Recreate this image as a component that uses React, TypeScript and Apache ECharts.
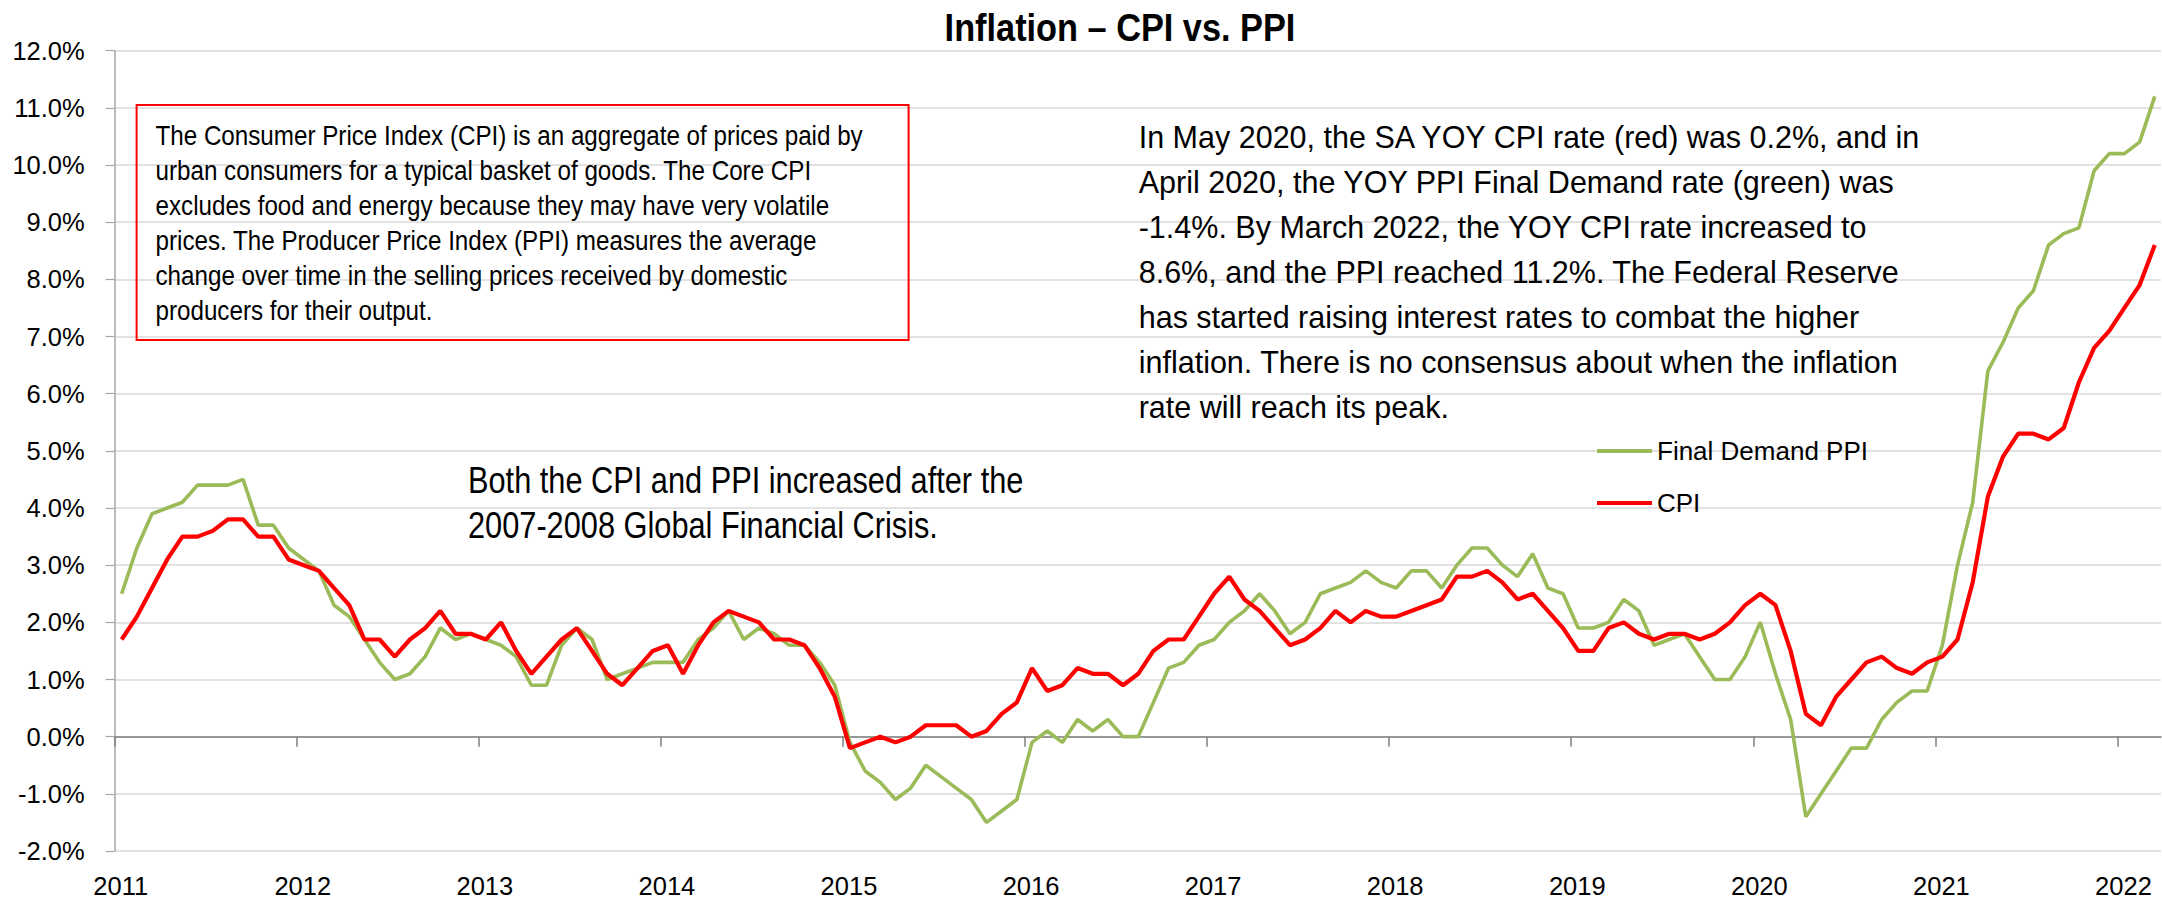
import React, { useEffect, useRef } from "react";
import * as echarts from "echarts";

// ---------------- data (monthly, Jan 2011 – Mar 2022, YoY %) ----------------
const SERIES_NAMES = ["Final Demand PPI", "CPI"];

const ppi: number[] = [
  // 2011
  2.5, 3.3, 3.9, 4.0, 4.1, 4.4, 4.4, 4.4, 4.5, 3.7, 3.7, 3.3,
  // 2012
  3.1, 2.9, 2.3, 2.1, 1.7, 1.3, 1.0, 1.1, 1.4, 1.9, 1.7, 1.8,
  // 2013
  1.7, 1.6, 1.4, 0.9, 0.9, 1.6, 1.9, 1.7, 1.0, 1.1, 1.2, 1.3,
  // 2014
  1.3, 1.3, 1.7, 1.9, 2.2, 1.7, 1.9, 1.8, 1.6, 1.6, 1.3, 0.9,
  // 2015
  -0.1, -0.6, -0.8, -1.1, -0.9, -0.5, -0.7, -0.9, -1.1, -1.5, -1.3, -1.1,
  // 2016
  -0.1, 0.1, -0.1, 0.3, 0.1, 0.3, 0.0, 0.0, 0.6, 1.2, 1.3, 1.6,
  // 2017
  1.7, 2.0, 2.2, 2.5, 2.2, 1.8, 2.0, 2.5, 2.6, 2.7, 2.9, 2.7,
  // 2018
  2.6, 2.9, 2.9, 2.6, 3.0, 3.3, 3.3, 3.0, 2.8, 3.2, 2.6, 2.5,
  // 2019
  1.9, 1.9, 2.0, 2.4, 2.2, 1.6, 1.7, 1.8, 1.4, 1.0, 1.0, 1.4,
  // 2020
  2.0, 1.1, 0.3, -1.4, -1.0, -0.6, -0.2, -0.2, 0.3, 0.6, 0.8, 0.8,
  // 2021
  1.6, 3.0, 4.1, 6.4, 6.9, 7.5, 7.8, 8.6, 8.8, 8.9, 9.9, 10.2,
  // 2022
  10.2, 10.4, 11.2,
];

const cpi: number[] = [
  // 2011
  1.7, 2.1, 2.6, 3.1, 3.5, 3.5, 3.6, 3.8, 3.8, 3.5, 3.5, 3.1,
  // 2012
  3.0, 2.9, 2.6, 2.3, 1.7, 1.7, 1.4, 1.7, 1.9, 2.2, 1.8, 1.8,
  // 2013
  1.7, 2.0, 1.5, 1.1, 1.4, 1.7, 1.9, 1.5, 1.1, 0.9, 1.2, 1.5,
  // 2014
  1.6, 1.1, 1.6, 2.0, 2.2, 2.1, 2.0, 1.7, 1.7, 1.6, 1.2, 0.7,
  // 2015
  -0.2, -0.1, 0.0, -0.1, 0.0, 0.2, 0.2, 0.2, 0.0, 0.1, 0.4, 0.6,
  // 2016
  1.2, 0.8, 0.9, 1.2, 1.1, 1.1, 0.9, 1.1, 1.5, 1.7, 1.7, 2.1,
  // 2017
  2.5, 2.8, 2.4, 2.2, 1.9, 1.6, 1.7, 1.9, 2.2, 2.0, 2.2, 2.1,
  // 2018
  2.1, 2.2, 2.3, 2.4, 2.8, 2.8, 2.9, 2.7, 2.4, 2.5, 2.2, 1.9,
  // 2019
  1.5, 1.5, 1.9, 2.0, 1.8, 1.7, 1.8, 1.8, 1.7, 1.8, 2.0, 2.3,
  // 2020
  2.5, 2.3, 1.5, 0.4, 0.2, 0.7, 1.0, 1.3, 1.4, 1.2, 1.1, 1.3,
  // 2021
  1.4, 1.7, 2.7, 4.2, 4.9, 5.3, 5.3, 5.2, 5.4, 6.2, 6.8, 7.1,
  // 2022
  7.5, 7.9, 8.6,
];

const yearTickLabels: string[] = [
  "2011", "2012", "2013", "2014", "2015", "2016",
  "2017", "2018", "2019", "2020", "2021", "2022",
];

const TITLE = "Inflation \u2013 CPI vs. PPI";

const boxLines: string[] = [
  "The Consumer Price Index (CPI) is an aggregate of prices paid by",
  "urban consumers for a typical basket of goods. The Core CPI",
  "excludes food and energy because they may have very volatile",
  "prices. The Producer Price Index (PPI) measures the average",
  "change over time in the selling prices received by domestic",
  "producers for their output.",
];

const rightLines: string[] = [
  "In May 2020, the SA YOY CPI rate (red) was 0.2%, and in",
  "April 2020, the YOY PPI Final Demand rate (green) was",
  "-1.4%. By March 2022, the YOY CPI rate increased to",
  "8.6%, and the PPI reached 11.2%. The Federal Reserve",
  "has started raising interest rates to combat the higher",
  "inflation. There is no consensus about when the inflation",
  "rate will reach its peak.",
];

const crisisLines: string[] = [
  "Both the CPI and PPI increased after the",
  "2007-2008 Global Financial Crisis.",
];

// ---------------- styling ----------------
const GREEN = "#9BBB59";
const RED = "#FF0000";
const SANS = "'Liberation Sans', Arial, sans-serif";
const X_OFFSET = 0.46; // points sit mid-month
const X_MAX = 134.87;

export default function App() {
  const ref = useRef<HTMLDivElement>(null);

  useEffect(() => {
    if (!ref.current) return;
    const chart = echarts.init(ref.current, undefined, { renderer: "svg" });

    const tickVals = yearTickLabels.map((_, i) => i * 12);
    const toPairs = (arr: number[]) => arr.map((v, i) => [i + X_OFFSET, v]);

    const option: any = {
      animation: false,
      backgroundColor: "#ffffff",
      grid: { left: 114.7, right: 1, top: 50.7, bottom: 52 },
      legend: {
        orient: "vertical",
        left: 1597,
        top: 436,
        padding: 0,
        itemWidth: 55,
        itemHeight: 4,
        itemGap: 22,
        icon: "rect",
        data: [
          { name: SERIES_NAMES[0], itemStyle: { color: GREEN } },
          { name: SERIES_NAMES[1], itemStyle: { color: RED } },
        ],
        textStyle: { fontSize: 26, lineHeight: 30, fontFamily: SANS, color: "#000" },
      },
      xAxis: [
        {
          type: "value",
          min: 0,
          max: X_MAX,
          position: "bottom",
          axisLine: { show: false, onZero: false },
          axisTick: { show: false },
          splitLine: { show: false },
          axisLabel: {
            customValues: tickVals,
            formatter: (v: number) => yearTickLabels[Math.round(v / 12)] ?? "",
            fontSize: 25.5,
            fontFamily: SANS,
            color: "#000",
            margin: 22,
            padding: [0, 0, 0, 12],
          },
        },
        {
          type: "value",
          min: 0,
          max: X_MAX,
          position: "bottom",
          axisLine: { show: true, onZero: true, lineStyle: { color: "#7f7f7f", width: 1.5 } },
          axisTick: { show: true, customValues: tickVals, length: 10, lineStyle: { color: "#7f7f7f", width: 1.5 } },
          axisLabel: { show: false },
          splitLine: { show: false },
        },
      ],
      yAxis: {
        type: "value",
        min: -2,
        max: 12,
        interval: 1,
        axisLine: { show: true, onZero: false, lineStyle: { color: "#a6a6a6", width: 1.5 } },
        axisTick: { show: true, length: 9, lineStyle: { color: "#a6a6a6", width: 1.2 } },
        axisLabel: {
          formatter: (v: number) => v.toFixed(1) + "%",
          fontSize: 25.5,
          fontFamily: SANS,
          color: "#000",
          margin: 30,
        },
        splitLine: { lineStyle: { color: "#d9d9d9", width: 1.5 } },
      },
      series: [
        {
          name: SERIES_NAMES[0],
          type: "line",
          xAxisIndex: 0,
          data: toPairs(ppi),
          showSymbol: false,
          symbol: "none",
          lineStyle: { color: GREEN, width: 3.6 },
          itemStyle: { color: GREEN },
        },
        {
          name: SERIES_NAMES[1],
          type: "line",
          xAxisIndex: 0,
          data: toPairs(cpi),
          showSymbol: false,
          symbol: "none",
          lineStyle: { color: RED, width: 4.2 },
          itemStyle: { color: RED },
        },
      ],
      graphic: [
        {
          type: "text",
          x: 1120,
          y: 27.5,
          scaleX: 0.88,
          style: {
            text: TITLE,
            fontSize: 39,
            fontWeight: "bold",
            fontFamily: SANS,
            fill: "#000",
            align: "center",
            verticalAlign: "middle",
          },
        },
        {
          type: "rect",
          shape: { x: 136.6, y: 105, width: 772, height: 235 },
          style: { fill: "none", stroke: RED, lineWidth: 2 },
          z: 10,
        },
        {
          type: "text",
          x: 155.5,
          y: 117.5,
          scaleX: 0.88,
          z: 10,
          style: {
            text: boxLines.join("\n"),
            fontSize: 27.5,
            lineHeight: 35,
            fontFamily: SANS,
            fill: "#000",
            align: "left",
            verticalAlign: "top",
          },
        },
        {
          type: "text",
          x: 1138.7,
          y: 114,
          z: 10,
          style: {
            text: rightLines.join("\n"),
            fontSize: 30.5,
            lineHeight: 45,
            fontFamily: SANS,
            fill: "#000",
            align: "left",
            verticalAlign: "top",
          },
        },
        {
          type: "text",
          x: 468,
          y: 457.5,
          scaleX: 0.82,
          z: 10,
          style: {
            text: crisisLines.join("\n"),
            fontSize: 37.5,
            lineHeight: 45,
            fontFamily: SANS,
            fill: "#000",
            align: "left",
            verticalAlign: "top",
          },
        },
      ],
    };

    chart.setOption(option);
    return () => chart.dispose();
  }, []);

  return (
    <div
      ref={ref}
      style={{ position: "fixed", left: 0, top: 0, width: 2162, height: 903, background: "#fff" }}
    />
  );
}
